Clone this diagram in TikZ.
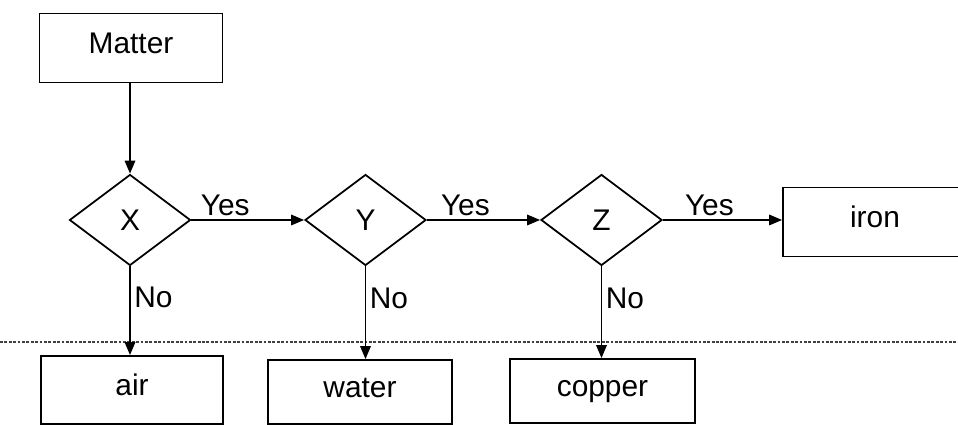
\documentclass[tikz,border=0pt]{standalone}
\usepackage{fontspec}
\setmainfont{Liberation Sans}
\usetikzlibrary{arrows.meta,shapes.geometric,calc}
\tikzset{box/.style={rectangle,draw=black,line width=1pt,minimum width=3.66cm,minimum height=1.38cm,inner sep=0pt,text height=0.42cm,text depth=0.2cm}}
\tikzset{test/.style={diamond,draw=black,line width=1pt,minimum width=2.42cm,minimum height=1.82cm,inner sep=0pt,text height=0.42cm,text depth=0pt}}
\tikzset{flow/.style={line width=1pt,-{Triangle[length=2.6mm,width=2.1mm]}}}
\tikzset{ans/.style={inner sep=2pt}}
\begin{document}
\begin{tikzpicture}[font=\fontsize{17}{20}\selectfont]
\useasboundingbox (0,0) rectangle (19.16,8.5);
\node (matter) at (2.62,7.54) [box] {Matter};
\node (x) at (2.6,4.1) [test] {X};
\node (y) at (7.31,4.1) [test] {Y};
\node (z) at (12.03,4.1) [test] {Z};
\node (iron) at (17.5,4.06) [box,minimum width=3.68cm] {iron};
\node (air) at (2.64,0.7) [box,minimum width=3.64cm,minimum height=1.36cm] {air};
\node (water) at (7.2,0.66) [box,minimum width=3.68cm,minimum height=1.28cm] {water};
\node (copper) at (12.05,0.68) [box,minimum width=3.7cm,minimum height=1.28cm] {copper};
\coordinate (sepl) at (0,1.66);
\coordinate (sepr) at (19.16,1.66);
\draw[black!75,line width=0.7pt,dash pattern=on 1.6pt off 0.9pt] (sepl)--(sepr);
\draw[flow] (x.north |- matter.south) -- (x.north);
\draw[flow] (x.east) -- (y.west) node[ans,above,pos=0.3] {Yes};
\draw[flow] (y.east) -- (z.west) node[ans,above,pos=0.34] {Yes};
\draw[flow] (z.east) -- (z.east -| iron.west) node[ans,above,pos=0.39] {Yes};
\draw[flow] (x.south) -- (x.south |- air.north) node[ans,right,pos=0.35] {No};
\draw[flow] (y.south) -- (y.south |- water.north) node[ans,right,pos=0.35] {No};
\draw[flow] (z.south) -- (z.south |- copper.north) node[ans,right,pos=0.35] {No};
\end{tikzpicture}
\end{document}
